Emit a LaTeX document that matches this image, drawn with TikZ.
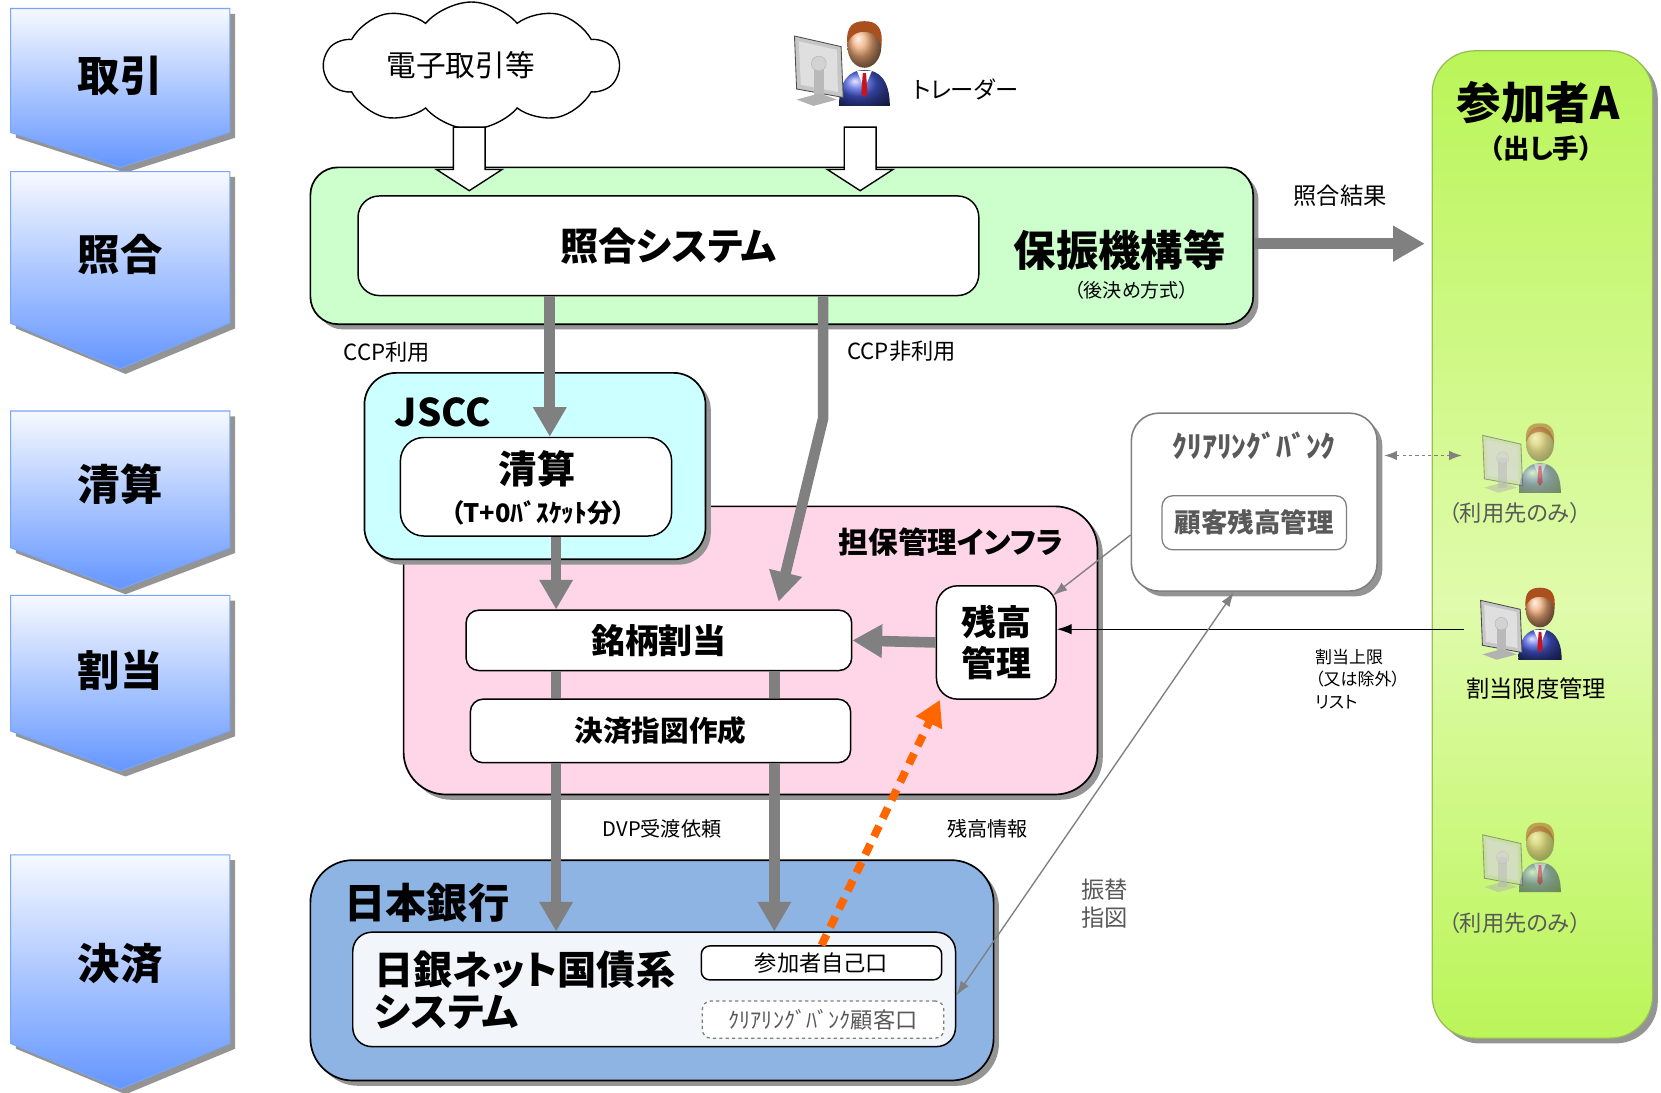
\documentclass[tikz,border=0pt]{standalone}
\usepackage{fontspec}
\setmainfont{Noto Sans CJK JP}[RawFeature=+palt]
\usetikzlibrary{arrows.meta, shapes.symbols, shadows, positioning}

\definecolor{stagetop}{RGB}{246,249,255}
\definecolor{stagebot}{RGB}{100,150,255}
\definecolor{stageedge}{RGB}{120,165,250}
\definecolor{hofurifill}{RGB}{204,255,204}
\definecolor{jsccfill}{RGB}{204,255,255}
\definecolor{infrafill}{RGB}{255,214,232}
\definecolor{bojfill}{RGB}{141,180,226}
\definecolor{netfill}{RGB}{242,245,250}
\definecolor{pipegray}{RGB}{128,128,128}
\definecolor{cbgray}{RGB}{89,89,89}
\definecolor{cbedge}{RGB}{127,127,127}
\definecolor{infoorange}{RGB}{255,102,0}
\definecolor{limeA}{RGB}{186,245,88}
\definecolor{limeB}{RGB}{224,251,172}
\definecolor{limeedge}{RGB}{155,187,89}
\definecolor{suitblue}{RGB}{70,90,220}
\definecolor{skin}{RGB}{240,170,120}
\definecolor{hair}{RGB}{170,80,30}
\definecolor{tiered}{RGB}{200,20,30}

\pgfdeclareverticalshading{limefade}{100bp}{color(0bp)=(limeA); color(25bp)=(limeA); color(47bp)=(limeB); color(75bp)=(limeA); color(100bp)=(limeA)}

\newcommand{\fsz}[2]{\fontsize{#1}{#2}\selectfont}

\tikzset{
  % person at a screen
  trader/.pic={
    \shade[ball color=suitblue] (44,88) .. controls (44,64) and (54,54) .. (68,54) .. controls (82,54) and (92,64) .. (92,88) -- cycle;
    \fill[white] (61,55) -- (75,55) -- (68,72) -- cycle;
    \fill[tiered] (66.5,57) -- (69.5,57) -- (71,76) -- (68,80) -- (65,76) -- cycle;
    \shade[ball color=skin] (68,32) ellipse (16 and 20);
    \fill[hair] (52,30) .. controls (50,12) and (58,8) .. (68,8) .. controls (80,8) and (86,14) .. (84,32) .. controls (82,22) and (74,18) .. (68,18) .. controls (60,18) and (54,22) .. (52,30) -- cycle;
    \fill[gray!45, draw=gray!60!black, line width=0.8pt] (2,22) -- (46,32) -- (48,80) -- (4,72) -- cycle;
    \fill[gray!25] (6,27) -- (42,35) -- (43,75) -- (8,68) -- cycle;
    \fill[gray!55] (20,48) -- (30,48) -- (30,82) -- (20,82) -- cycle;
    \fill[gray!35, draw=gray!60] (25,48) circle (7);
    \fill[gray!60] (4,82) -- (26,76) -- (42,82) -- (20,88) -- cycle;
  }
}

\begin{document}
\begin{tikzpicture}[
    x = 1pt, y = -1pt,
    shadowed/.style = {drop shadow={shadow xshift=5pt, shadow yshift=-5pt, fill=black!42, opacity=1}},
    stage/.style = {draw=stageedge, line width=1pt, top color=stagetop, bottom color=stagebot, shadowed},
    stagelabel/.style = {font=\fsz{40}{44}\bfseries},
    panel/.style = {draw=black, line width=1.6pt, inner sep=0pt, shadowed},
    inbox/.style = {draw=black, line width=1.4pt, fill=white, inner sep=0pt},
    cbpanel/.style = {draw=cbedge, line width=1.5pt, fill=white, rounded corners=26pt, inner sep=0pt, shadowed},
    partcol/.style = {draw=limeedge, line width=1.2pt, rounded corners=40pt, shade, shading=limefade, inner sep=0pt, shadowed},
    hollow/.style = {draw=black, line width=1.3pt, fill=white},
    pipe/.style = {draw=pipegray, line width=10pt},
    flow/.style = {pipe, -{Triangle[width=30pt, length=28pt]}},
    thinarrow/.style = {draw=black, line width=1.3pt, -{Latex[length=14pt, width=10pt]}},
    greyline/.style = {draw=pipegray, line width=1.3pt},
    infoflow/.style = {draw=infoorange, line width=7.5pt, dash pattern=on 11pt off 8pt, -{Triangle[width=26pt, length=24pt]}},
]
\useasboundingbox (0,0) rectangle (1568,1031);

% stages down the left side
\foreach \t/\s/\p/\ty/\txt [count=\i] in {8/125/158/72/取引, 162/305/348/240/照合, 388/517/556/457/清算, 562/690/728/633/割当, 807/985/1028/910/決済}{
  \path[stage] (10,\t) -- (217,\t) -- (217,\s) -- (113.5,\p) -- (10,\s) -- cycle;
  \node[stagelabel] (stage\i) at (113.5,\ty) {\txt};
}

% participant A
\node[partcol, minimum width=208pt, minimum height=932pt] (partA) at (1456,514) {};
\node[font=\fsz{42}{46}\bfseries] (partAname) at (1452,97) {参加者A};
\node[font=\fsz{25}{28}\bfseries] (partArole) at (1455,140) {（出し手）};

% matching
\node[panel, fill=hofurifill, rounded corners=26pt, minimum width=890pt, minimum height=148pt] (hofuri) at (738,232) {};
\node[inbox, rounded corners=20pt, minimum width=586pt, minimum height=94pt, font=\fsz{36}{40}\bfseries] (match) at (631,232) {照合システム};
\node[font=\fsz{40}{44}\bfseries] (hofuriname) at (1057,236) {保振機構等};
\node[font=\fsz{18}{20}] (hofurinote) at (1068,274) {（後決め方式）};

\node[cloud, cloud puffs=10, cloud puff arc=100, aspect=2.6, draw, line width=1.3pt, fill=white, minimum width=278pt, minimum height=110pt, font=\fsz{28}{30}] (etrade) at (445,62) {電子取引等\hspace*{20pt}};
\pic at (748,12) {trader};
\node[font=\fsz{22}{24}, anchor=west] (tradername) at (858,84) {トレーダー};

\coordinate (feedA) at (443,120);
\coordinate (feedB) at (812,120);
\foreach \f in {feedA, feedB}
  \draw[hollow] (\f) ++(-15,0) -- ++(0,40) -- ++(-16,0) -- ++(31,20) -- ++(31,-20) -- ++(-16,0) -- ++(0,-40) -- cycle;

% collateral infrastructure and JSCC
\node[panel, fill=infrafill, rounded corners=40pt, minimum width=655pt, minimum height=272pt] (infra) at (708.5,614) {};
\node[font=\fsz{28}{30}\bfseries] (infraname) at (898,512) {担保管理インフラ};

\node[panel, fill=jsccfill, rounded corners=30pt, minimum width=322pt, minimum height=176pt] (jscc) at (505,440) {};
\node[font=\fsz{36}{40}\bfseries] (jsccname) at (418,389) {JSCC};
\node[inbox, rounded corners=22pt, minimum width=256pt, minimum height=93pt] (clearing) at (506,459.5) {};
\node[font=\fsz{36}{40}\bfseries] (clearingname) at (507,443) {清算};
\node[font=\fsz{24}{26}\bfseries] (clearingnote) at (508,484) {（T+0ﾊﾞｽｹｯﾄ分）};

\node[inbox, rounded corners=12pt, minimum width=364pt, minimum height=57pt, font=\fsz{32}{34}\bfseries] (alloc) at (622,604.5) {銘柄割当};
\node[inbox, rounded corners=12pt, minimum width=359pt, minimum height=60pt, font=\fsz{27}{30}\bfseries] (instr) at (623.5,690) {決済指図作成};
\node[inbox, rounded corners=20pt, minimum width=113pt, minimum height=107pt, align=center, font=\fsz{33}{39}\bfseries] (bal) at (940.5,606.5) {残高\\管理};

% Bank of Japan
\node[panel, fill=bojfill, rounded corners=40pt, minimum width=645pt, minimum height=208pt] (boj) at (615.5,916) {};
\node[font=\fsz{39}{42}\bfseries] (bojname) at (403,852) {日本銀行};
\node[inbox, fill=netfill, rounded corners=18pt, minimum width=569pt, minimum height=108pt] (bojnet) at (617.5,934) {};
\node[font=\fsz{37}{40}\bfseries, align=left, anchor=west] (bojnetname) at (350,935) {日銀ネット国債系\\システム};
\node[inbox, rounded corners=8pt, minimum width=227pt, minimum height=32pt, font=\fsz{21}{23}] (own) at (775.5,909) {参加者自己口};
\node[draw=cbedge, dashed, line width=1.2pt, rounded corners=8pt, fill=white, minimum width=228pt, minimum height=35pt, inner sep=0pt, font=\fsz{21}{23}, text=cbgray] (cbacct) at (777,962.5) {ｸﾘｱﾘﾝｸﾞﾊﾞﾝｸ顧客口};

% clearing bank
\node[cbpanel, minimum width=232pt, minimum height=168pt] (cbank) at (1184,474) {};
\node[font=\fsz{28}{30}\bfseries, text=cbgray] (cbankname) at (1184,421) {ｸﾘｱﾘﾝｸﾞﾊﾞﾝｸ};
\node[draw=cbedge, line width=1.2pt, rounded corners=10pt, fill=white, minimum width=174pt, minimum height=51pt, inner sep=0pt, font=\fsz{25}{27}\bfseries, text=cbgray] (cbmgmt) at (1184,493.5) {顧客残高管理};

% users on the participant side
\pic[scale=0.82, opacity=0.5] at (1398,393) {trader};
\pic[scale=0.85] at (1396,548) {trader};
\pic[scale=0.82, opacity=0.5] at (1398,770) {trader};
\coordinate (userA) at (1380,430);
\coordinate (limitmgr) at (1382,594);
\node[font=\fsz{21}{23}, text=cbgray] (userAnote) at (1430,484) {（利用先のみ）};
\node[font=\fsz{22}{24}] (limitname) at (1450,650) {割当限度管理};
\node[font=\fsz{21}{23}, text=cbgray] (userBnote) at (1430,871) {（利用先のみ）};

% flows
\coordinate (ccp) at (519,0);
\coordinate (noccp) at (777,0);
\coordinate (lcol) at (525,0);
\coordinate (rcol) at (731,0);
\coordinate (bend) at (777,395);
\coordinate (noccpend) at (735,568);
\coordinate (resultend) at (1345,230);

\draw[flow] (match.south -| ccp) -- (clearing.north -| ccp);
\draw[flow] (match.south -| noccp) -- (bend) -- (noccpend);
\draw[flow] (clearing.south -| lcol) -- (alloc.north -| lcol);
\foreach \c in {lcol, rcol}{
  \draw[pipe] (alloc.south -| \c) -- (instr.north -| \c);
  \draw[flow] (instr.south -| \c) -- (bojnet.north -| \c);
}
\draw[flow] (bal.west) -- (alloc.east);
\draw[draw=pipegray, line width=11pt, -{Triangle[width=32pt, length=30pt]}] (hofuri.east |- resultend) -- (resultend);

\draw[thinarrow] (limitmgr) -- (bal.east |- limitmgr);
\draw[greyline, -{Latex[length=14pt, width=9pt]}] ([yshift=-31pt]cbank.west) -- ([xshift=-4pt, yshift=-10pt]bal.north east);
\draw[greyline, {Latex[length=14pt, width=9pt]}-{Latex[length=14pt, width=9pt]}] ([yshift=-6pt]bojnet.east) -- ([xshift=-19pt]cbank.south);
\draw[greyline, dashed, {Latex[length=12pt, width=9pt]}-{Latex[length=12pt, width=9pt]}, shorten <=6pt] (cbank.east |- userA) -- (userA);
\draw[infoflow] (own.north) -- ([xshift=4pt]bal.south west);

% labels
\node[font=\fsz{21}{23}] (ccplabel) at (365,332) {CCP利用};
\node[font=\fsz{21}{23}] (noccplabel) at (851,332) {CCP非利用};
\node[font=\fsz{22}{24}] (resultlabel) at (1265,185) {照合結果};
\node[font=\fsz{19}{21}] (dvplabel) at (625,782) {DVP受渡依頼};
\node[font=\fsz{19}{21}] (infolabel) at (932,782) {残高情報};
\node[font=\fsz{22}{27}, text=cbgray, align=left] (transferlabel) at (1043,853) {振替\\指図};
\node[font=\fsz{16}{21.5}, align=left, anchor=north west] (limitlist) at (1238,609) {割当上限\\（又は除外）\\リスト};

\end{tikzpicture}
\end{document}
